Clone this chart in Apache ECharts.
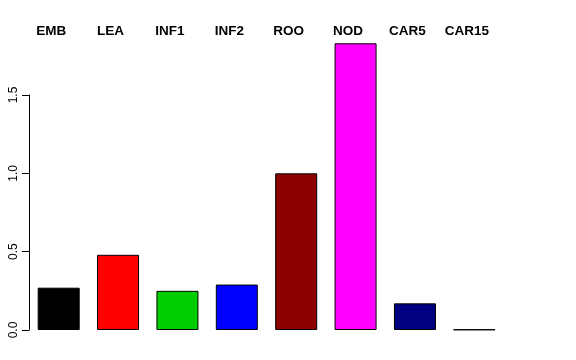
<!DOCTYPE html>
<html>
<head>
<meta charset="utf-8">
<script src="https://cdn.jsdelivr.net/npm/echarts@6/dist/echarts.min.js"></script>
<style>html,body{margin:0;padding:0;background:#fff}#c{width:576px;height:360px}</style>
</head>
<body>
<div id="c"></div>
<script>
var categories = ["EMB", "LEA", "INF1", "INF2", "ROO", "NOD", "CAR5", "CAR15"];
var values = [0.27, 0.48, 0.25, 0.29, 1.0, 1.83, 0.17, 0.003];
var colors = ["#000000", "#FF0000", "#00CD00", "#0000FF", "#8B0000", "#FF00FF", "#000080", "#FFA500"];
var yTicks = [0, 0.5, 1.0, 1.5];

var chart = echarts.init(document.getElementById('c'), null, {renderer: 'canvas'});
chart.setOption({
  animation: false,
  backgroundColor: '#ffffff',
  grid: {left: 29, right: 72, top: 95, bottom: 30, containLabel: false},
  xAxis: {
    type: 'category',
    data: categories,
    position: 'top',
    offset: 49,
    axisLine: {show: false},
    axisTick: {show: false},
    axisLabel: {
      margin: 8,
      color: '#000',
      fontFamily: 'Liberation Sans, Arial, sans-serif',
      fontWeight: 'bold',
      fontSize: 13.5,
      padding: [0, 15, 0, 0]
    },
    splitLine: {show: false}
  },
  yAxis: {
    type: 'value',
    min: 0,
    max: 1.5,
    interval: 0.5,
    axisLine: {show: true, lineStyle: {color: '#000', width: 1}},
    axisTick: {show: true, length: 7, lineStyle: {color: '#000'}},
    axisLabel: {
      rotate: 90,
      margin: 9,
      color: '#000',
      fontFamily: 'Liberation Sans, Arial, sans-serif',
      fontSize: 12,
      formatter: function (v) { return v.toFixed(1); }
    },
    splitLine: {show: false}
  },
  series: [{
    type: 'bar',
    clip: false,
    barWidth: 42,
    data: values.map(function (v, i) {
      return {value: v, itemStyle: {color: colors[i]}};
    }),
    itemStyle: {borderColor: '#000', borderWidth: 1}
  }]
});
</script>
</body>
</html>
